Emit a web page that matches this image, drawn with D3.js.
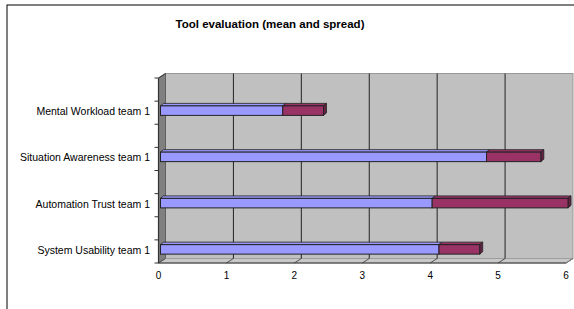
<!DOCTYPE html>
<html><head><meta charset="utf-8">
<script src="https://cdn.jsdelivr.net/npm/d3@7"></script>
<style>body{margin:0;background:#fff}svg{display:block}</style>
</head><body>
<svg id="c" width="574" height="309"></svg>
<script>
const title = "Tool evaluation (mean and spread)";
const categories = ["System Usability team 1","Automation Trust team 1","Situation Awareness team 1","Mental Workload team 1"];
const meanValues = [4.1, 4.0, 4.8, 1.8];
const spreadValues = [0.6, 2.0, 0.8, 0.6];
const xTicks = [0,1,2,3,4,5,6];

const svg = d3.select("#c");
const font = "Liberation Sans, Arial, sans-serif";

// outer border
svg.append("rect").attr("x",7).attr("y",5).attr("width",580).attr("height",320)
  .attr("fill","#fff").attr("stroke","#000").attr("stroke-width",1);

svg.append("text").attr("x",270).attr("y",28).attr("text-anchor","middle")
  .attr("font-family",font).attr("font-size",11.5).attr("font-weight","bold").text(title);

// geometry
const fx0 = 158.5, fx1 = 566, fyTop = 78, fyBot = 263;
const wdx = 7, wdy = -4.5; // wall depth
const x = d3.scaleLinear().domain([0,6]).range([fx0, fx1]);
const y = d3.scaleBand().domain(categories.slice().reverse()).range([fyTop+10, fyBot+10]);
const barH = 9.5, bdx = 3, bdy = -2.5;
const depthShiftX = 2, depthShiftY = -0.5; // bars sit slightly into the depth

// back wall
svg.append("rect").attr("x",fx0+wdx).attr("y",fyTop+wdy).attr("width",fx1-fx0).attr("height",fyBot-fyTop)
  .attr("fill","#c0c0c0").attr("stroke","#999").attr("stroke-width",1);
// side wall
svg.append("path").attr("d",`M${fx0},${fyTop}L${fx0+wdx},${fyTop+wdy}L${fx0+wdx},${fyBot+wdy}L${fx0},${fyBot}Z`)
  .attr("fill","#808080").attr("stroke","#555").attr("stroke-width",0.8);
// floor
svg.append("path").attr("d",`M${fx0},${fyBot}L${fx0+wdx},${fyBot+wdy}L${fx1+wdx},${fyBot+wdy}L${fx1},${fyBot}Z`)
  .attr("fill","#c8c8c8").attr("stroke","#999").attr("stroke-width",0.8);

// gridlines
xTicks.forEach(t=>{
  if(t>0 && t<6){
    svg.append("line").attr("x1",x(t)+wdx).attr("x2",x(t)+wdx).attr("y1",fyTop+wdy).attr("y2",fyBot+wdy)
      .attr("stroke","#222").attr("stroke-width",1);
  }
  svg.append("line").attr("x1",x(t)).attr("y1",fyBot).attr("x2",x(t)+wdx).attr("y2",fyBot+wdy)
    .attr("stroke","#333").attr("stroke-width",0.8);
});

// axes lines
svg.append("line").attr("x1",fx0).attr("x2",fx1).attr("y1",fyBot).attr("y2",fyBot).attr("stroke","#333").attr("stroke-width",1.2);
svg.append("line").attr("x1",fx0).attr("x2",fx0).attr("y1",fyTop).attr("y2",fyBot).attr("stroke","#333").attr("stroke-width",1.2);
svg.append("line").attr("x1",fx0).attr("y1",fyTop).attr("x2",fx0+wdx).attr("y2",fyTop+wdy).attr("stroke","#333").attr("stroke-width",1);
svg.append("line").attr("x1",fx1).attr("y1",fyBot).attr("x2",fx1+wdx).attr("y2",fyBot+wdy).attr("stroke","#888").attr("stroke-width",1);

// y ticks (category boundaries and mid points)
const step = (fyBot-fyTop)/categories.length;
d3.range(0, categories.length*2+1).forEach(i=>{
  const yy = fyTop + i*step/2;
  svg.append("line").attr("x1",fx0-4).attr("x2",fx0).attr("y1",yy).attr("y2",yy).attr("stroke","#333").attr("stroke-width",1);
});

// x tick labels
svg.selectAll("text.xt").data(xTicks).enter().append("text").attr("class","xt")
  .attr("x",d=>x(d)).attr("y",279).attr("text-anchor","middle")
  .attr("font-family",font).attr("font-size",10).text(d=>d);

// category labels
svg.selectAll("text.cat").data(categories).enter().append("text").attr("class","cat")
  .attr("x",150).attr("y",d=>y(d)+y.bandwidth()/2+4).attr("text-anchor","end")
  .attr("font-family",font).attr("font-size",10.5).text(d=>d);

// bars
function bar3d(x0v, x1v, cat, front, top, side, drawSide){
  const xa = x(x0v)+depthShiftX, xb = x(x1v)+depthShiftX;
  const yc = y(cat)+y.bandwidth()/2+depthShiftY;
  const yt = yc - barH/2, yb = yc + barH/2;
  const g = svg.append("g");
  g.append("path").attr("d",`M${xa},${yt}L${xa+bdx},${yt+bdy}L${xb+bdx},${yt+bdy}L${xb},${yt}Z`)
    .attr("fill",top).attr("stroke","#222").attr("stroke-width",0.8);
  if(drawSide) g.append("path").attr("d",`M${xb},${yt}L${xb+bdx},${yt+bdy}L${xb+bdx},${yb+bdy}L${xb},${yb}Z`)
    .attr("fill",side).attr("stroke","#222").attr("stroke-width",0.8);
  g.append("rect").attr("x",xa).attr("y",yt).attr("width",xb-xa).attr("height",barH)
    .attr("fill",front).attr("stroke","#222").attr("stroke-width",1);
}
categories.forEach((c,i)=>{
  bar3d(0, meanValues[i], c, "#9999ff", "#9999ff", "#6666cc", false);
  bar3d(meanValues[i], meanValues[i]+spreadValues[i], c, "#993366", "#993366", "#662244", true);
});
</script>
</body></html>
